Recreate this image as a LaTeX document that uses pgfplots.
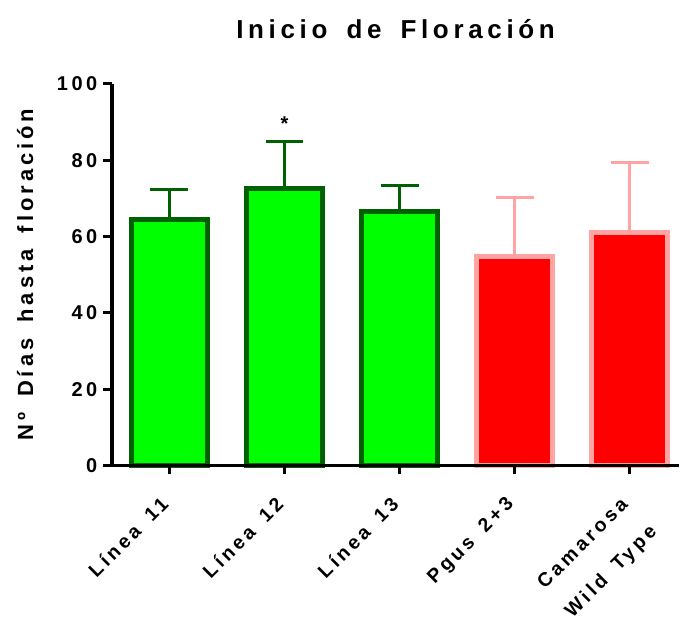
\documentclass[border=0pt]{standalone}
\usepackage{fontspec}
\setmainfont{Liberation Sans}[LetterSpace=18, WordSpace=1.6]
\usepackage{pgfplots}
\pgfplotsset{compat=1.18}
\usetikzlibrary{calc}
\definecolor{dgreen}{HTML}{006100}
\definecolor{lgreen}{HTML}{00FF00}
\definecolor{pinkedge}{HTML}{FFA3A3}
\definecolor{bred}{HTML}{FF0000}
\begin{document}
\begin{tikzpicture}
\begin{axis}[
  scale only axis, width=568pt, height=382pt,
  xmin=-0.5, xmax=4.43, ymin=0, ymax=100,
  axis x line*=bottom, axis y line*=left,
  axis line style={line width=3.5pt, black},
  axis on top=true,
  clip=false,
  tick align=outside,
  major tick length=9pt,
  tick style={line width=3pt, black},
  ytick={0,20,...,100},
  xtick={0,1,2,3,4},
  xticklabels={Línea 11, Línea 12, Línea 13, Pgus 2+3, {Camarosa\\Wild Type}},
  /pgf/number format/assume math mode=true,
  yticklabel style={font=\bfseries\fontsize{20}{22}\selectfont, xshift=-2pt},
  xticklabel style={font=\bfseries\fontsize{19.5}{40}\selectfont, yshift=-16pt, xshift=-10pt, rotate=45, anchor=north east, align=center},
  title={Inicio de Floración},
  title style={font=\bfseries\fontsize{26}{30}\selectfont, at={(axis description cs:0.5,1)}, anchor=south, yshift=36pt},
  ylabel={Nº Días hasta floración},
  ylabel style={font=\bfseries\fontsize{22}{25}\selectfont, at={(axis description cs:-0.153,0.5)}, anchor=center},
]
\addplot[ybar, bar shift=0pt, bar width=76pt, fill=lgreen, draw=dgreen, line width=5pt,
  error bars/.cd, y dir=plus, y explicit,
  error bar style={line width=3pt, dgreen},
  error mark options={rotate=90, mark size=19pt, line width=3pt, dgreen}]
  coordinates {(0,64.5) +- (0,7.7) (1,72.5) +- (0,12.5) (2,66.5) +- (0,7.0)};
\addplot[ybar, bar shift=0pt, bar width=76pt, fill=bred, draw=pinkedge, line width=5pt,
  error bars/.cd, y dir=plus, y explicit,
  error bar style={line width=3pt, pinkedge},
  error mark options={rotate=90, mark size=19pt, line width=3pt, pinkedge}]
  coordinates {(3,54.7) +- (0,15.6) (4,61.0) +- (0,18.5)};
\node[font=\bfseries\fontsize{20}{22}\selectfont] at (axis cs:1,89.5) {*};
\end{axis}
\path ($(current axis.south west)+(-112pt,-155pt)$) rectangle ($(current axis.north east)+(1pt,84pt)$);
\end{tikzpicture}
\end{document}
